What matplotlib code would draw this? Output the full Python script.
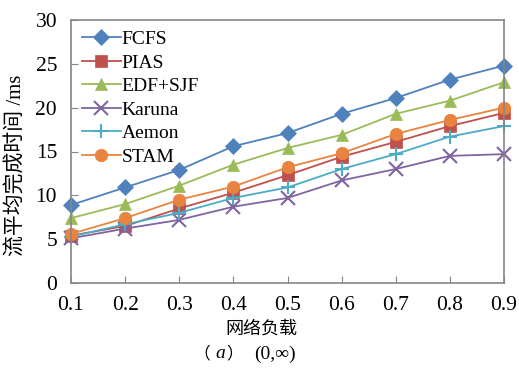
import matplotlib
matplotlib.use('Agg')
import matplotlib.pyplot as plt

# x axis: network load
loads = [0.1, 0.2, 0.3, 0.4, 0.5, 0.6, 0.7, 0.8, 0.9]

# mean flow completion time (ms)
fcfs   = [8.9, 10.9, 12.9, 15.6, 17.1, 19.3, 21.1, 23.2, 24.8]
pias   = [5.4, 6.5, 8.5, 10.3, 12.3, 14.4, 16.1, 17.9, 19.4]
edfsjf = [7.4, 9.0, 11.1, 13.5, 15.4, 16.9, 19.3, 20.8, 22.9]
karuna = [5.1, 6.2, 7.2, 8.7, 9.7, 11.7, 13.0, 14.5, 14.7]
aemon  = [5.3, 6.7, 8.0, 9.7, 10.9, 13.0, 14.7, 16.7, 17.9]
stam   = [5.6, 7.4, 9.5, 11.0, 13.2, 14.8, 17.0, 18.6, 20.0]

names = ['FCFS', 'PIAS', 'EDF+SJF', 'Karuna', 'Aemon', 'STAM']
series = [fcfs, pias, edfsjf, karuna, aemon, stam]
colors = ['#4F81BD', '#C0504D', '#9BBB59', '#8064A2', '#4BACC6', '#E8843F']
markers = ['D', 's', '^', 'x', '+', 'o']
msizes = [8, 9, 9, 10, 10, 9]

yticks = [0, 5, 10, 15, 20, 25, 30]

fam = ['Liberation Serif', 'Noto Sans CJK SC', 'DejaVu Sans']
plt.rcParams['font.family'] = fam

W, H = 519, 371
fig = plt.figure(figsize=(W / 100, H / 100), dpi=100)
ax = fig.add_axes([71 / W, 1 - 283 / H, (504 - 71) / W, (283 - 20) / H])

for name, ys, c, m, ms in zip(names, series, colors, markers, msizes):
    ax.plot(loads, ys, color=c, marker=m, markersize=ms, linewidth=1.3,
            markeredgewidth=1.5 if m in ('x', '+') else 0.5,
            markeredgecolor=c, label=name, clip_on=False)

ax.set_xlim(0.1, 0.9)
ax.set_ylim(0, 30)
ax.set_xticks(loads)
ax.set_xticklabels(['%.1f' % v for v in loads])
ax.set_yticks(yticks)
ax.tick_params(direction='in', length=5, color='#868686', labelsize=15.5)
ax.tick_params(axis='x', pad=9)
ax.tick_params(axis='y', pad=10)
for s in ax.spines.values():
    s.set_color('#868686')
    s.set_linewidth(1.2)

ax.set_ylabel('流平均完成时间 /ms', fontsize=15)
ax.yaxis.set_label_coords(-(71 - 27) / 433, (283 - 165) / 263)
ax.set_xlabel('网络负载', fontsize=13)
ax.xaxis.set_label_coords((261 - 71) / 433, -(321 - 283) / 263)

leg = ax.legend(loc='upper left', frameon=False, fontsize=14, handlelength=2.0,
                handletextpad=0.05, labelspacing=0.3, borderaxespad=0.15)

fig.text(193 / W, 1 - 354 / H, '（', fontsize=12, va='center')
fig.text(215 / W, 1 - 354 / H, 'a', fontsize=14, style='italic', va='center')
fig.text(226 / W, 1 - 354 / H, '）', fontsize=12, va='center')
fig.text(254 / W, 1 - 354 / H, '(0,∞)', fontsize=14, va='center')

fig.savefig('out.png', dpi=100)
